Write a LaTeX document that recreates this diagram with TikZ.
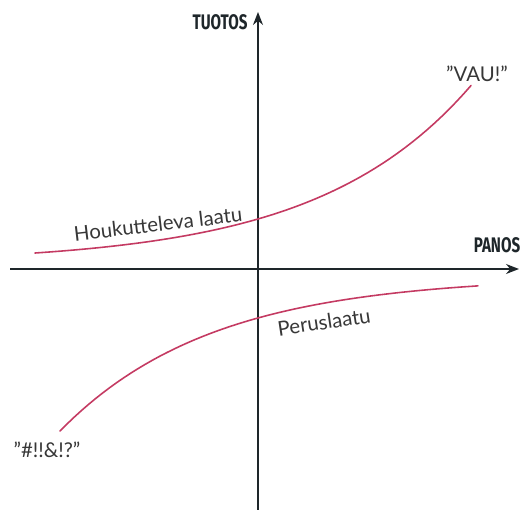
\documentclass[tikz,border=0pt]{standalone}
\usepackage{fontspec}
\setmainfont{Lato}
\newfontfamily\axfont{Fira Sans}
\usepackage{graphicx}
\usetikzlibrary{arrows.meta}
\definecolor{CurveRed} {RGB}{196, 58, 98}
\definecolor{AxisDark} {RGB}{ 30, 38, 42}
\definecolor{TextGray} {RGB}{ 55, 55, 55}
\tikzset{
  %% axes
  axarr/.style={-{Stealth[length=2.6mm,width=2mm]},line width=0.8pt,color=AxisDark},
  axlbl/.style={font=\axfont\bfseries\fontsize{12}{14}\selectfont,text=AxisDark,inner sep=0pt},
  %% curves and their labels
  qcurve/.style={line width=0.9pt,color=CurveRed,line cap=round,samples=60},
  qlbl/.style={font=\fontsize{11.6}{13}\selectfont,text=TextGray,inner sep=0pt},
}
\newcommand{\narrow}[1]{\scalebox{0.72}[1]{#1}}
\begin{document}
\begin{tikzpicture}[x=0.02cm,y=0.02cm]
  \useasboundingbox (0,0) rectangle (520,513);
  %% axes
  \coordinate (YB) at (258,3);
  \coordinate (YT) at (258,501);
  \coordinate (XL) at (10,244);
  \coordinate (XR) at (519,244);
  \draw[axarr] (YB) -- (YT);
  \draw[axarr] (XL) -- (XR);
  \node[axlbl] (tuotos) at (220,491) {\narrow{TUOTOS}};
  \node[axlbl] (panos)  at (497,268) {\narrow{PANOS}};

  %% upper curve
  \draw[qcurve] plot[domain=35:471] (\x,{249.6+44.4*exp(0.00652*(\x-258))});
  %% lower curve
  \draw[qcurve] plot[domain=60:478] (\x,{236.9-154.9*exp(-0.0066*(\x-60))});

  \node[qlbl,rotate=6.7] (hk)  at (158,289) {Houkutteleva laatu};
  \node[qlbl,rotate=8.6] (pl)  at (324,191) {Peruslaatu};
  \node[qlbl] (vau) at (477,439) {"VAU!"};
  \node[qlbl] (kir) at (47,63)   {"\#!!\&!?"};
\end{tikzpicture}
\end{document}
